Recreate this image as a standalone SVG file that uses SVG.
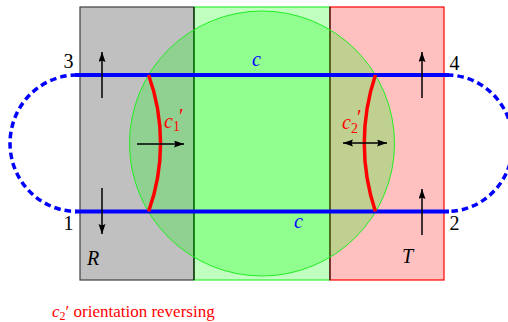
<svg xmlns="http://www.w3.org/2000/svg" width="508" height="322" viewBox="0 0 508 322">
<style>
.num{font-size:20px;fill:#000}
.it{font-style:italic;font-size:20px}
.blue{fill:#0000ff}
.red{fill:#ff0000}
.sub{font-style:normal;font-size:14px}
.pr{font-style:normal;font-size:21px}
.arr{stroke:#000;stroke-width:1.5;fill:none}
.solid{stroke:#0000ff;stroke-width:4;fill:none}
.dash{stroke:#0000ff;stroke-width:3.5;fill:none;stroke-dasharray:6.5 4}
.rc{stroke:#ff0000;stroke-width:3.5;fill:none}
.cap{font-size:17px;fill:#ff0000}
</style>
<defs>
<marker id="ah" markerUnits="userSpaceOnUse" markerWidth="11" markerHeight="8" refX="10" refY="3.5" orient="auto-start-reverse">
<path d="M0,0 L10,3.5 L0,7 L1.5,3.5 Z" fill="#000"/>
</marker>
</defs>
<g id="R">
<rect x="80" y="7" width="114" height="273" fill="#c0c0c0" stroke="#404040" stroke-width="1.2"/>
</g>
<g id="middle">
<rect x="194" y="7" width="136" height="273" fill="#c0ffc0" stroke="#33ee33" stroke-width="1.2"/>
</g>
<g id="T">
<rect x="330" y="7" width="114" height="273" fill="#ffc0c0" stroke="#ff0000" stroke-width="1.2"/>
</g>
<g id="dividers">
<line x1="194" y1="7" x2="194" y2="280" stroke="#000" stroke-width="1.2"/>
<line x1="330" y1="7" x2="330" y2="280" stroke="#222" stroke-width="1.2"/>
</g>
<g id="disc">
<circle cx="262" cy="143.5" r="132.5" fill="#00ff00" fill-opacity="0.25" stroke="#22ee22" stroke-width="1"/>
</g>
<g id="connectors">
<line class="solid" x1="75" y1="75" x2="449" y2="75"/>
<line class="solid" x1="75" y1="211.5" x2="449" y2="211.5"/>
<path class="dash" d="M77 75 A67 68.25 0 0 0 77 211.5"/>
<path class="dash" d="M447 75 A66 68.25 0 0 1 447 211.5"/>
<path class="rc" d="M148.6 75 A201 201 0 0 1 148.6 211.5"/>
<path class="rc" d="M375.4 75 A215 215 0 0 0 375.4 211.5"/>
<line class="arr" x1="102" y1="98" x2="102" y2="52" marker-end="url(#ah)"/>
<line class="arr" x1="102" y1="188" x2="102" y2="234" marker-end="url(#ah)"/>
<line class="arr" x1="422" y1="98" x2="422" y2="52" marker-end="url(#ah)"/>
<line class="arr" x1="422" y1="235" x2="422" y2="189" marker-end="url(#ah)"/>
<line class="arr" x1="137" y1="144" x2="184" y2="144" marker-end="url(#ah)"/>
<line class="arr" x1="343" y1="143" x2="387" y2="143" marker-start="url(#ah)" marker-end="url(#ah)"/>
</g>
<g id="labels" font-family="Liberation Serif, DejaVu Serif, serif">
<text class="num" x="68.5" y="68" text-anchor="middle">3</text>
<text class="num" x="454.5" y="70" text-anchor="middle">4</text>
<text class="num" x="68.5" y="230" text-anchor="middle">1</text>
<text class="num" x="454.5" y="230" text-anchor="middle">2</text>
<text class="it" x="87" y="265" fill="#000">R</text>
<text class="it" x="402" y="263" fill="#000">T</text>
<text class="it blue" x="252" y="66">c</text>
<text class="it blue" x="294" y="228">c</text>
<text class="it red" x="164" y="128">c<tspan class="sub" dy="3">1</tspan><tspan class="pr" dx="-1" dy="-8">′</tspan></text>
<text class="it red" x="342" y="129">c<tspan class="sub" dy="4">2</tspan><tspan class="pr" dx="-1" dy="-9">′</tspan></text>
<text class="cap" x="52" y="317"><tspan font-style="italic">c</tspan><tspan font-size="12" dy="3">2</tspan><tspan dy="-3">′ orientation reversing</tspan></text>
</g>
</svg>
